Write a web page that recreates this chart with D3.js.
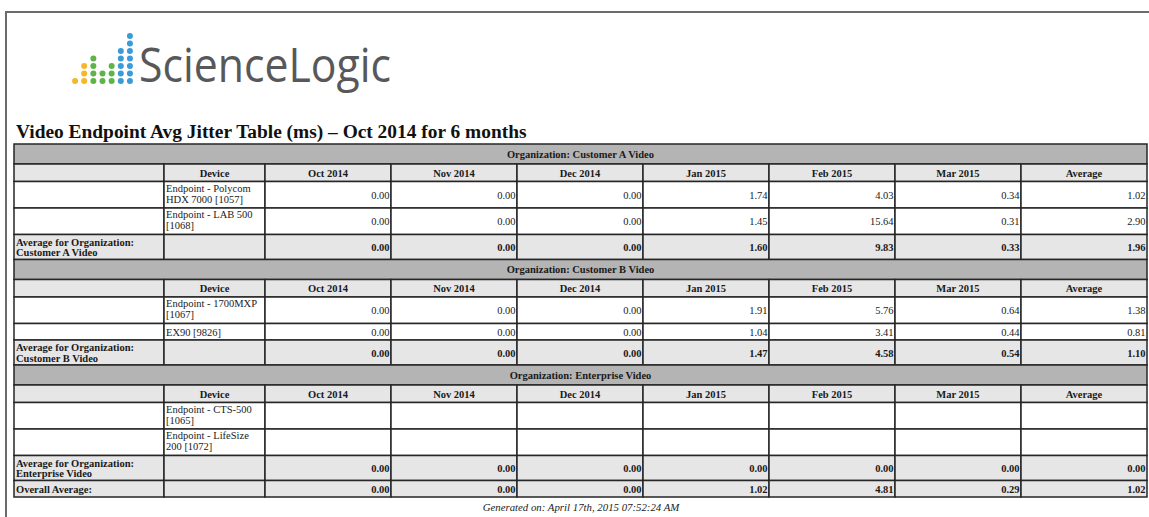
<!DOCTYPE html>
<html>
<head>
<meta charset="utf-8">
<script src="https://cdn.jsdelivr.net/npm/d3@7"></script>
<style>
body{margin:0;background:#fff;}
svg{display:block;}
</style>
</head>
<body>
<svg id="svg" width="1149" height="517"></svg>
<script>
// ---- data ----
var title="Video Endpoint Avg Jitter Table (ms) \u2013 Oct 2014 for 6 months";
var footer="Generated on: April 17th, 2015 07:52:24 AM";
var months=["Oct 2014","Nov 2014","Dec 2014","Jan 2015","Feb 2015","Mar 2015"];
var valueCols=months.concat(["Average"]);
var orgs=["Customer A Video","Customer B Video","Enterprise Video"];

var devicesA=[["Endpoint - Polycom","HDX 7000 [1057]"],["Endpoint - LAB 500","[1068]"]];
var valuesA=[[0,0,0,1.74,4.03,0.34,1.02],[0,0,0,1.45,15.64,0.31,2.90]];
var avgA=[0,0,0,1.60,9.83,0.33,1.96];

var devicesB=[["Endpoint - 1700MXP","[1067]"],["EX90 [9826]"]];
var valuesB=[[0,0,0,1.91,5.76,0.64,1.38],[0,0,0,1.04,3.41,0.44,0.81]];
var avgB=[0,0,0,1.47,4.58,0.54,1.10];

var devicesE=[["Endpoint - CTS-500","[1065]"],["Endpoint - LifeSize","200 [1072]"]];
var valuesE=[[null,null,null,null,null,null,null],[null,null,null,null,null,null,null]];
var avgE=[0,0,0,0,0,0,0];

var overall=[0,0,0,1.02,4.81,0.29,1.02];

// logo dots: number of dots per column and colour
var logoCounts=[1,3,4,2,3,5,7];
var logoColors=["#f7b52c","#f7b52c","#5db54a","#5db54a","#5db54a","#3b9ad8","#3b9ad8"];

// ---- layout ----
var svg=d3.select("#svg");
var fmt=d3.format(".2f");
var serif="'Liberation Serif','Times New Roman',serif";

// page frame
svg.append("path")
    .attr("d","M6,517 V12 H1149")
    .attr("fill","none")
    .attr("stroke","#6b6b6b")
    .attr("stroke-width",2);

// logo
var lx=d3.scaleBand().domain(d3.range(logoCounts.length)).range([70.5,134.5]);
var ly=d3.scaleLinear().domain([0,6]).range([81,36]);
logoCounts.forEach(function(n,i){
    svg.append("g").selectAll("circle")
        .data(d3.range(n))
        .enter().append("circle")
            .attr("cx",lx(i)+lx.bandwidth()/2)
            .attr("cy",d=>ly(d))
            .attr("r",3)
            .attr("fill",logoColors[i]);
});
svg.append("text")
    .attr("x",139)
    .attr("y",82)
    .attr("font-family","'Open Sans',sans-serif")
    .attr("font-size",47)
    .attr("fill","#58585a")
    .attr("textLength",252)
    .attr("lengthAdjust","spacingAndGlyphs")
    .text("ScienceLogic");

// title
svg.append("text")
    .attr("x",16)
    .attr("y",138)
    .attr("font-family",serif)
    .attr("font-weight","bold")
    .attr("font-size",19.4)
    .attr("fill","#111")
    .text(title);

// build rows
var rows=[];
function section(org,devices,values,avg){
    rows.push({type:"org",h:20,label:"Organization: "+org});
    rows.push({type:"head",h:17.5});
    devices.forEach(function(d,i){
        rows.push({type:"dev",h:d.length>1?26.5:16.5,device:d,values:values[i]});
    });
    rows.push({type:"avg",h:25,label:["Average for Organization:",org],values:avg});
}
section(orgs[0],devicesA,valuesA,avgA);
section(orgs[1],devicesB,valuesB,avgB);
section(orgs[2],devicesE,valuesE,avgE);
rows.push({type:"avg",h:16.5,label:["Overall Average:"],values:overall});

var tableTop=144;
var ends=d3.cumsum(rows,d=>d.h);
rows.forEach((r,i)=>{r.y=tableTop+ends[i]-r.h;});

var left=14,right=1147,devX=164,valX=265;
var x=d3.scaleBand().domain(valueCols).range([valX,right]);
var fills={org:"#b4b4b4",head:"#e6e6e6",dev:"#ffffff",avg:"#e6e6e6"};

var g=svg.append("g");
var rowG=g.selectAll("g.row")
    .data(rows)
    .enter().append("g")
        .attr("class","row")
        .attr("transform",d=>"translate(0,"+d.y+")");

// cells
rowG.each(function(r){
    var sel=d3.select(this);
    var cells;
    if(r.type==="org") cells=[[left,right]];
    else cells=[[left,devX],[devX,valX]].concat(valueCols.map(c=>[x(c),x(c)+x.bandwidth()]));
    sel.selectAll("rect")
        .data(cells)
        .enter().append("rect")
            .attr("x",d=>d[0])
            .attr("y",0)
            .attr("width",d=>d[1]-d[0])
            .attr("height",r.h)
            .attr("fill",fills[r.type])
            .attr("stroke","#262626")
            .attr("stroke-width",1.5);
});

var txt=function(sel){
    return sel.append("text")
        .attr("font-family",serif)
        .attr("font-size",10.5)
        .attr("fill","#1a1a1a");
};

// org header
txt(rowG.filter(d=>d.type==="org"))
    .attr("x",(left+right)/2)
    .attr("y",d=>d.h/2+3.5)
    .attr("text-anchor","middle")
    .attr("font-weight","bold")
    .text(d=>d.label);

// column header
var head=rowG.filter(d=>d.type==="head");
txt(head)
    .attr("x",(devX+valX)/2)
    .attr("y",d=>d.h/2+4)
    .attr("text-anchor","middle")
    .attr("font-weight","bold")
    .text("Device");
head.each(function(r){
    txt(d3.select(this).selectAll("text.col").data(valueCols).enter())
        .attr("class","col")
        .attr("x",d=>x(d)+x.bandwidth()/2)
        .attr("y",r.h/2+4)
        .attr("text-anchor","middle")
        .attr("font-weight","bold")
        .text(d=>d);
});

// device names
rowG.filter(d=>d.type==="dev").each(function(r){
    var t=txt(d3.select(this));
    t.selectAll("tspan")
        .data(r.device)
        .enter().append("tspan")
            .attr("x",devX+2)
            .attr("y",(d,i)=>r.device.length>1?10+i*11:r.h/2+4)
            .text(d=>d);
});

// avg labels
rowG.filter(d=>d.type==="avg").each(function(r){
    var n=r.label.length;
    var t=txt(d3.select(this)).attr("font-weight","bold");
    t.selectAll("tspan")
        .data(r.label)
        .enter().append("tspan")
            .attr("x",left+2)
            .attr("y",(d,i)=>r.h/2+4+(i-(n-1)/2)*10.5)
            .text(d=>d);
});

// values
rowG.filter(d=>d.values).each(function(r){
    txt(d3.select(this).selectAll("text.val")
        .data(r.values.map((v,i)=>({col:valueCols[i],v:v})).filter(d=>d.v!==null))
        .enter())
        .attr("class","val")
        .attr("x",d=>x(d.col)+x.bandwidth()-1.5)
        .attr("y",r.h/2+4)
        .attr("text-anchor","end")
        .attr("font-weight",r.type==="avg"?"bold":"normal")
        .text(d=>fmt(d.v));
});

// footer
svg.append("text")
    .attr("x",581)
    .attr("y",511)
    .attr("text-anchor","middle")
    .attr("font-family",serif)
    .attr("font-style","italic")
    .attr("font-size",10.8)
    .attr("fill","#222")
    .text(footer);
</script>
</body>
</html>
